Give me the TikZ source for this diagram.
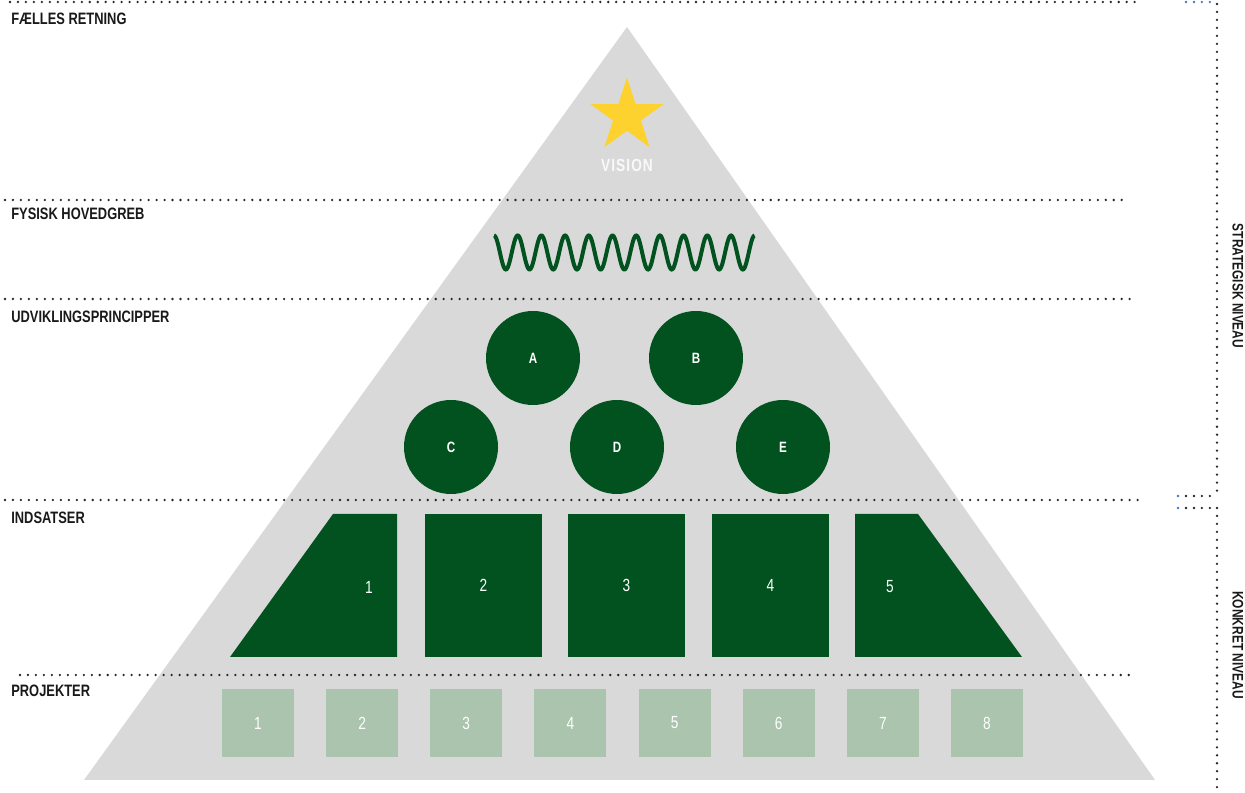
\documentclass[tikz,border=0pt]{standalone}
\usepackage{fontspec}
\setmainfont{Liberation Sans}[FakeStretch=0.78]
\usepackage{xcolor}
\usetikzlibrary{shapes.geometric}

\definecolor{pyrgray}{HTML}{D9D9D9}
\definecolor{darkgreen}{HTML}{02521F}
\definecolor{lightgreen}{HTML}{AAC4AD}
\definecolor{staryellow}{HTML}{FDD22F}
\definecolor{dotblue}{HTML}{4472C4}

\begin{document}
\begin{tikzpicture}[x=0.02cm, y=-0.02cm,
        dotline/.style={line width=1.45pt, line cap=round, dash pattern=on 0pt off 4.54pt, color=black!85},
        level/.style={anchor=west, inner sep=0pt, font=\fontsize{9.4}{11}\selectfont\bfseries, text=black!90},
        side/.style={rotate=-90, inner sep=0pt, font=\fontsize{8.7}{10}\selectfont\bfseries, text=black!90},
        principle/.style={circle, fill=darkgreen, minimum size=94*0.02cm, inner sep=0pt, text=white, font=\fontsize{8.5}{9}\selectfont\bfseries},
        effort/.style={fill=darkgreen, minimum width=117*0.02cm, minimum height=143*0.02cm, inner sep=0pt, text=white, font=\fontsize{10}{11}\selectfont},
        num/.style={inner sep=0pt, text=white, font=\fontsize{10}{11}\selectfont},
        project/.style={fill=lightgreen, minimum width=72*0.02cm, minimum height=68*0.02cm, inner sep=0pt, text=white, font=\fontsize{10}{11}\selectfont},
    ]
    \useasboundingbox (0,0) rectangle (1245,793);

    % Pyramid
    \coordinate (apex) at (627,27);
    \coordinate (baseR) at (1155,780);
    \coordinate (baseL) at (84,780);
    \fill[pyrgray] (apex) -- (baseR) -- (baseL) -- cycle;

    % Level lines
    \draw[dotline] (10,2) -- (1139,2);
    \draw[dotline, dotblue] (1186,2) -- (1210,2);
    \draw[dotline] (5,200) -- (1127,200);
    \draw[dotline] (5,299) -- (1131,299);
    \draw[dotline] (5,500) -- (1140,500);
    \draw[dotline] (20,675) -- (1132,675);

    % Side bracket
    \draw[dotline] (1217,4) -- (1217,496);
    \draw[dotline] (1217,508) -- (1217,790);
    \draw[dotline, dotblue] (1178,496) -- (1178.1,496);
    \draw[dotline, dotblue] (1178,508) -- (1178.1,508);
    \draw[dotline] (1186,496) -- (1210,496);
    \draw[dotline] (1186,508) -- (1210,508);

    % Level labels
    \node[level] (retning) at (11,19) {FÆLLES RETNING};
    \node[level] (hovedgreb) at (11,214) {FYSISK HOVEDGREB};
    \node[level] (principper) at (11,317) {UDVIKLINGSPRINCIPPER};
    \node[level] (indsatser) at (11,518) {INDSATSER};
    \node[level] (projekter) at (11,691) {PROJEKTER};
    \node[side] (strategisk) at (1238,286) {STRATEGISK NIVEAU};
    \node[side] (konkret) at (1238,645) {KONKRET NIVEAU};

    % Vision
    \node[star, star points=5, star point ratio=2.618, fill=staryellow, minimum size=77*0.02cm, inner sep=0pt] (star) at (627,116) {};
    \node[inner sep=0pt, text=white!95!gray, font=\fontsize{10}{11}\selectfont\bfseries] (vision) at (627,165) {V\kern.6pt I\kern.6pt S\kern.6pt I\kern.6pt O\kern.6pt N};

    % Hovedgreb wave
    \draw[darkgreen, line width=4*0.02cm] plot[domain=0:11, samples=400, smooth] ({494+\x*23.7},{252.5-17*cos(360*\x)});

    % Principles
    \node[principle] (pA) at (533,358) {A};
    \node[principle] (pB) at (696,358) {B};
    \node[principle] (pC) at (451,447) {C};
    \node[principle] (pD) at (617,447) {D};
    \node[principle] (pE) at (783,447) {E};

    % Efforts
    \fill[darkgreen] (333,514) -- (397,514) -- (397,657) -- (230,657) -- cycle;
    \node[num] (eff1) at (369,587) {1};
    \node[effort] (eff2) at (483.5,585.5) {2};
    \node[effort] (eff3) at (626.5,585.5) {3};
    \node[effort] (eff4) at (770.5,585.5) {4};
    \fill[darkgreen] (855,514) -- (918,514) -- (1022,657) -- (855,657) -- cycle;
    \node[num] (eff5) at (890,587) {5};

    % Projects
    \foreach \i in {1,...,8}
        \node[project] (proj\i) at ({258+104.14*(\i-1)},723) {\i};

\end{tikzpicture}
\end{document}
